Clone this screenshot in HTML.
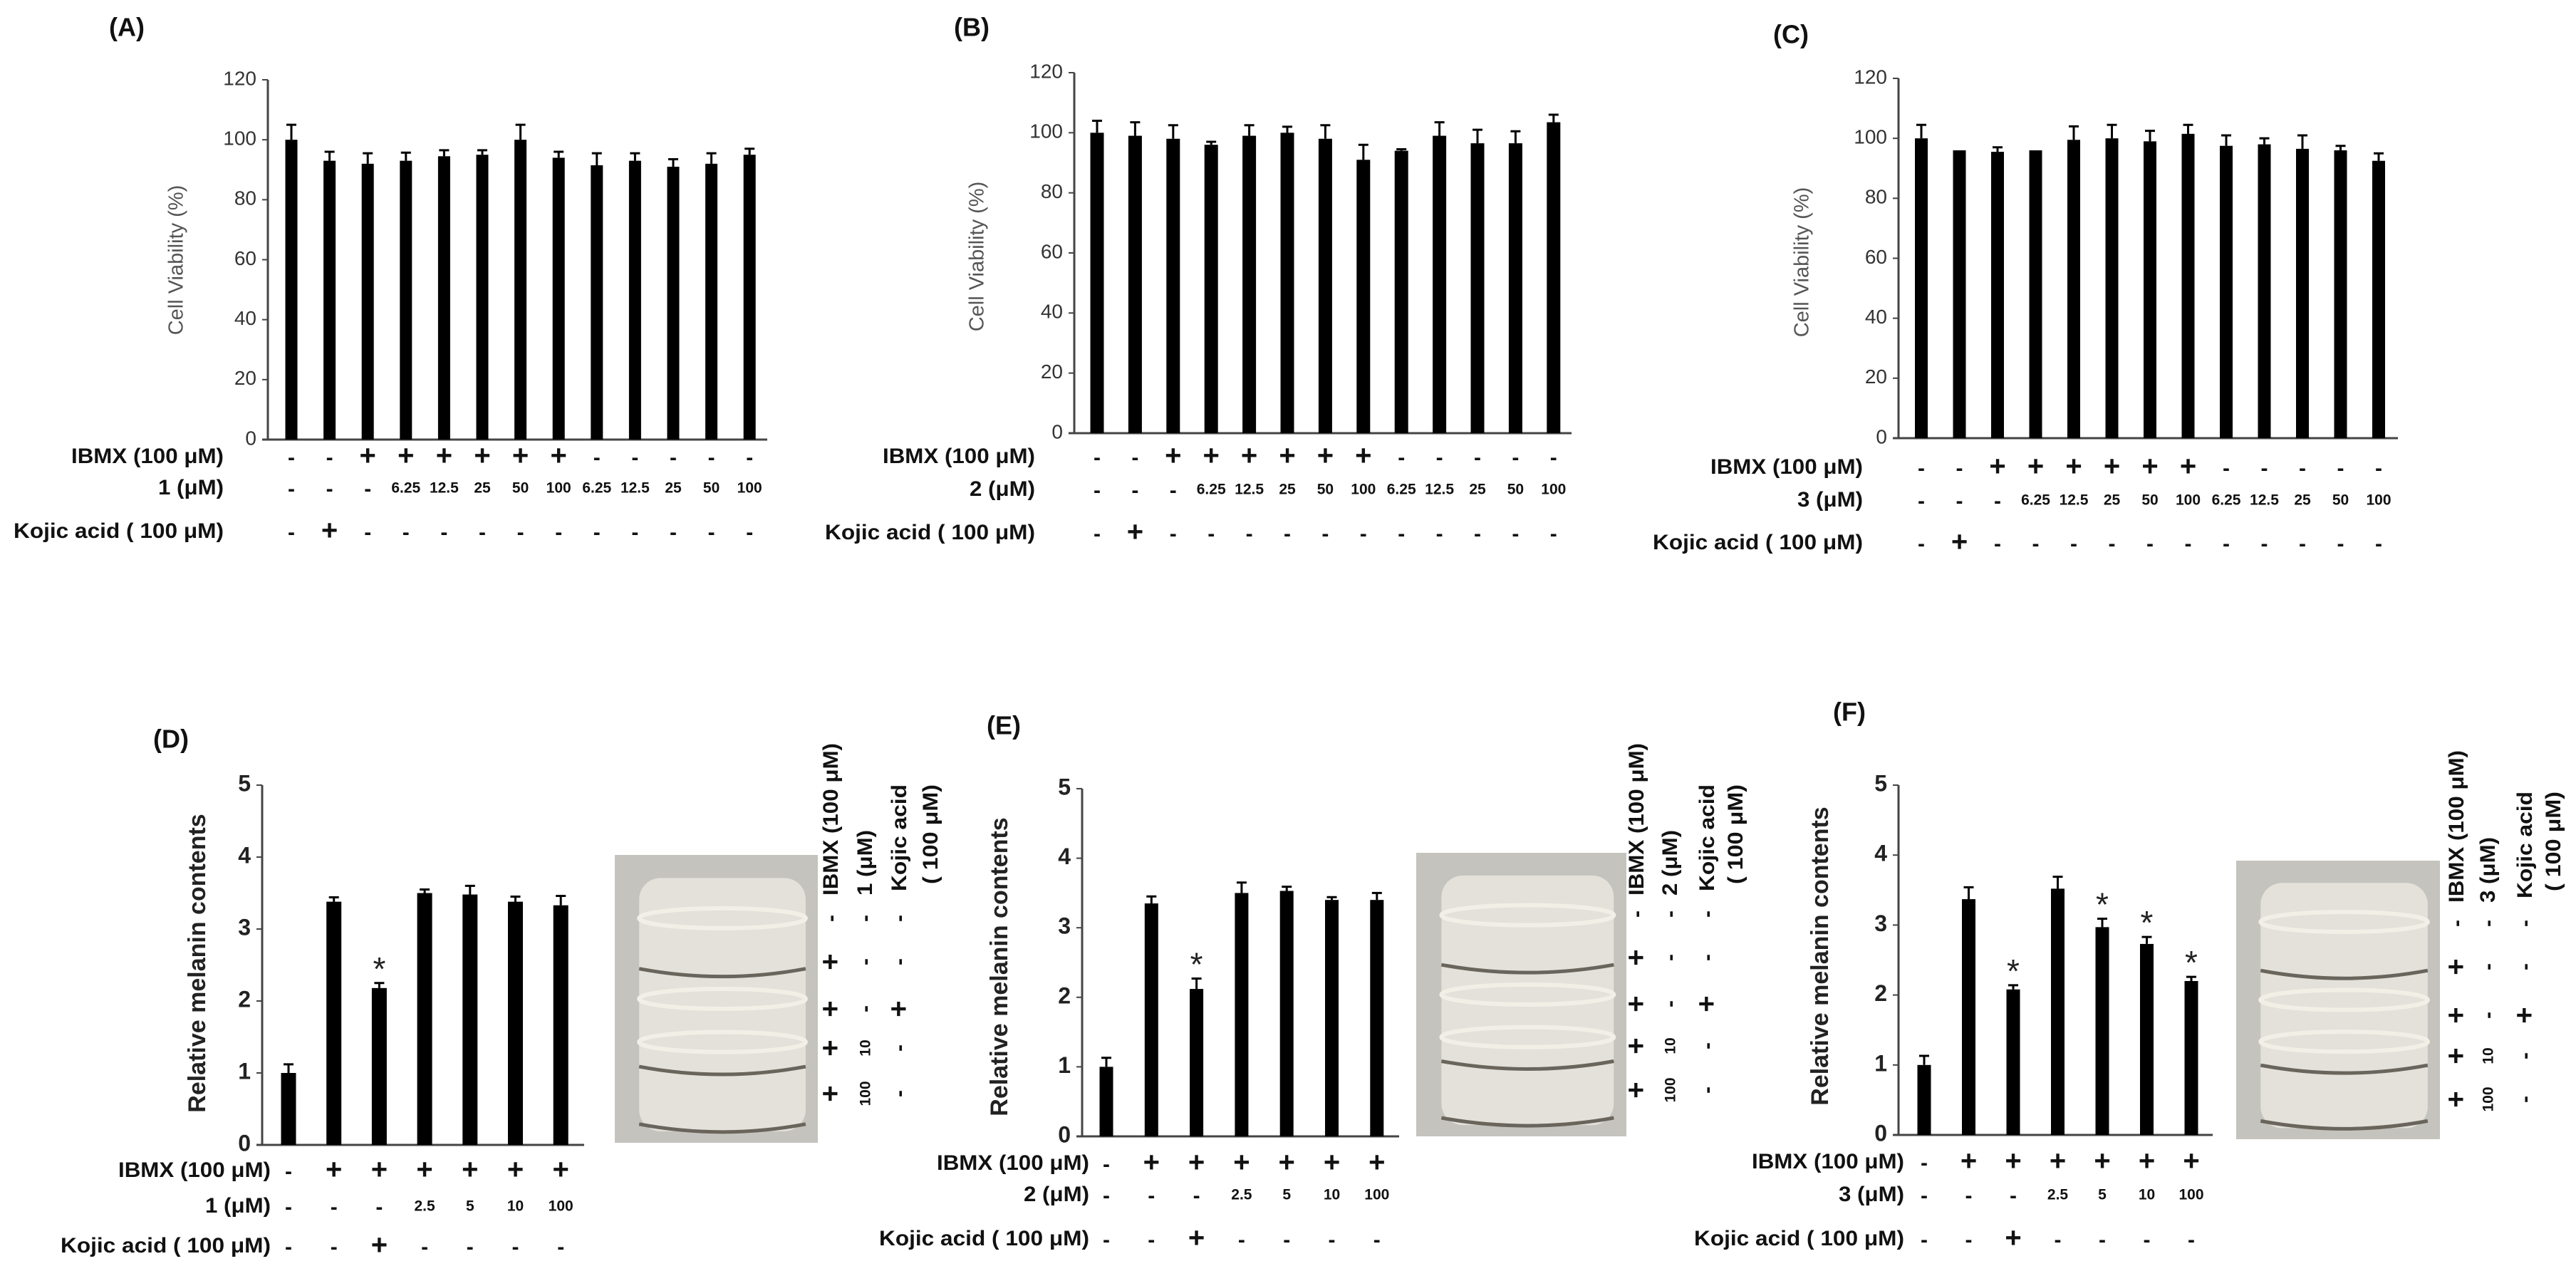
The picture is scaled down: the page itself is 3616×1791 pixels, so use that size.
<!DOCTYPE html>
<html><head><meta charset="utf-8">
<style>
html,body{margin:0;padding:0;background:#fff;}
svg{display:block;font-family:"Liberation Sans",Arial,sans-serif;}
</style></head>
<body>
<svg id="fig" xmlns="http://www.w3.org/2000/svg" width="3616" height="1791" viewBox="0 0 3616 1791">
<rect x="0" y="0" width="3616" height="1791" fill="#fff"/>
</svg>
<script>
// ---- Data: cell viability panels (A–C) ----
const viabTicks = [0, 20, 40, 60, 80, 100, 120];
const viabIbmx = ['-','-','+','+','+','+','+','+','-','-','-','-','-'];
const viabConc = ['-','-','-','6.25','12.5','25','50','100','6.25','12.5','25','50','100'];
const viabKojic = ['-','+','-','-','-','-','-','-','-','-','-','-','-'];
const valuesA = [100, 93, 92, 93, 94.5, 95, 100, 94, 91.5, 93, 91, 92, 95];
const errorsA = [5, 3, 3.5, 2.7, 2, 1.5, 5, 2, 4, 2.5, 2.5, 3.5, 2];
const valuesB = [100, 99, 98, 96, 99, 100, 98, 91, 94, 99, 96.5, 96.5, 103.5];
const errorsB = [4, 4.5, 4.5, 1, 3.5, 2, 4.5, 5, 0.5, 4.5, 4.5, 4, 2.5];
const valuesC = [100, 96, 95.5, 96, 99.5, 100, 99, 101.5, 97.5, 98, 96.5, 96, 92.5];
const errorsC = [4.5, 0, 1.5, 0, 4.5, 4.5, 3.5, 3, 3.5, 2, 4.5, 1.5, 2.5];
// ---- Data: melanin panels (D–F) ----
const melTicks = [0, 1, 2, 3, 4, 5];
const melIbmx = ['-','+','+','+','+','+','+'];
const melConc = ['-','-','-','2.5','5','10','100'];
const melKojic = ['-','-','+','-','-','-','-'];
const valuesD = [1.0, 3.38, 2.18, 3.5, 3.48, 3.38, 3.33];
const errorsD = [0.12, 0.06, 0.07, 0.05, 0.12, 0.07, 0.13];
const starsD = [false, false, true, false, false, false, false];
const valuesE = [1.0, 3.35, 2.12, 3.5, 3.53, 3.4, 3.4];
const errorsE = [0.13, 0.1, 0.15, 0.15, 0.06, 0.04, 0.1];
const starsE = [false, false, true, false, false, false, false];
const valuesF = [1.0, 3.37, 2.08, 3.52, 2.97, 2.73, 2.2];
const errorsF = [0.13, 0.17, 0.06, 0.17, 0.12, 0.1, 0.06];
const starsF = [false, false, true, false, true, true, true];
const photoCol1 = ['-','+','+','+','+'];
const photoCol2 = ['-','-','-','10','100'];
const photoCol3 = ['-','-','+','-','-'];

const NS = 'http://www.w3.org/2000/svg';
const svg = document.getElementById('fig');
function mk(tag, attrs, parent, txt) {
  const e = document.createElementNS(NS, tag);
  for (const k in attrs) e.setAttribute(k, attrs[k]);
  if (txt !== undefined) e.textContent = txt;
  (parent || svg).appendChild(e);
  return e;
}

function drawPanel(p) {
  const g = mk('g', {});
  
  
  const yScale = v => p.yBot - (v / p.max) * (p.yBot - p.yTop);
  const xScale = i => p.first + i * p.step;
  // panel letter
  const lab = mk('text', {x: p.labX, y: p.labY, 'font-size': 36, 'font-weight': 'bold', fill: '#111', 'dominant-baseline': 'middle'}, g, p.letter);
  
  
  // y axis
  const ya = mk('line', {x1: p.x0, y1: p.yTop, x2: p.x0, y2: p.yBot, stroke: '#444', 'stroke-width': 3}, g);
  
  
  const xa = mk('line', {x1: p.x0 - 8, y1: p.yBot, x2: p.x1, y2: p.yBot, stroke: '#444', 'stroke-width': 3}, g);
  
  
  p.ticks.forEach(t => {
    const y = yScale(t);
    mk('line', {x1: p.x0 - 8, y1: y, x2: p.x0, y2: y, stroke: '#444', 'stroke-width': 2}, g);
    const tl = mk('text', {x: p.x0 - 16, y: y, 'font-size': p.tickSize, 'font-weight': p.tickWeight, fill: p.tickColor, 'text-anchor': 'end', 'dominant-baseline': 'middle'}, g, String(t));
    
    
  });
  // y title
  const yt = mk('text', {x: p.titleX, y: p.titleY, 'font-size': p.titleSize, 'font-weight': p.titleWeight, fill: p.titleColor, 'text-anchor': 'middle', 'dominant-baseline': 'middle', transform: `rotate(-90 ${p.titleX} ${p.titleY})`}, g, p.title);
  
  
  // bars
  p.values.forEach((v, i) => {
    const cx = xScale(i), yv = yScale(v);
    const r = mk('rect', {x: cx - p.bw / 2, y: yv, width: p.bw, height: p.yBot - yv, fill: '#000'}, g);
    
    
    const e = p.errors[i];
    if (e > 0) {
      const ye = yScale(v + e);
      const el = mk('path', {d: `M${cx} ${yv} V${ye} M${cx - 7} ${ye} H${cx + 7}`, stroke: '#000', 'stroke-width': 3, fill: 'none'}, g);
      
      
    }
    if (p.stars && p.stars[i]) {
      const st = mk('text', {x: cx, y: yScale(v + e) - 4, 'font-size': 46, fill: '#222', 'text-anchor': 'middle'}, g, '*');
      
      
    }
  });
  // condition rows
  const rows = [[p.rowLabels[0], p.ibmx, p.rowY[0], p.rowW[0]], [p.rowLabels[1], p.conc, p.rowY[1], p.rowW[1]], [p.rowLabels[2], p.kojic, p.rowY[2], p.rowW[2]]];
  rows.forEach((row, ri) => {
    const rl = mk('text', {x: p.rowX, y: row[2], 'font-size': 30, 'font-weight': 'bold', fill: '#111', 'text-anchor': 'end', 'dominant-baseline': 'middle', textLength: row[3], lengthAdjust: 'spacingAndGlyphs'}, g, row[0]);
    
    
    row[1].forEach((s, i) => {
      const cx = xScale(i);
      let attrs;
      if (s === '+') attrs = {'font-size': 40, 'font-weight': 'bold'};
      else if (s === '-') attrs = {'font-size': 30, 'font-weight': 'bold'};
      else attrs = {'font-size': 21, 'font-weight': 'bold'};
      const t = mk('text', Object.assign({x: cx, y: row[2] + (s === '-' ? 2 : 0), fill: '#111', 'text-anchor': 'middle', 'dominant-baseline': 'middle'}, attrs), g, s);
      
      
    });
  });
  // photo + rotated legend
  if (p.photo) {
    const ph = p.photo;
    const pg = mk('g', {}, g);
    
    
    mk('rect', {x: ph.x, y: ph.y, width: ph.w, height: ph.h, fill: '#c4c3be'}, pg);
    const ix = ph.x + ph.w * 0.12, iw = ph.w * 0.82;
    mk('rect', {x: ix, y: ph.y + ph.h * 0.08, width: iw, height: ph.h * 0.88, rx: 30, fill: '#e3e1da'}, pg);
    [0.22, 0.5, 0.65].forEach(f => mk('ellipse', {cx: ix + iw / 2, cy: ph.y + ph.h * f, rx: iw / 2, ry: 14, fill: 'none', stroke: '#f2efe6', 'stroke-width': 6}, pg));
    [0.42, 0.76, 0.96].forEach(f => mk('path', {d: `M${ix} ${ph.y + ph.h * f - 10} Q${ix + iw / 2} ${ph.y + ph.h * f + 12} ${ix + iw} ${ph.y + ph.h * f - 10}`, fill: 'none', stroke: '#6a655c', 'stroke-width': 5}, pg));
    const cols = [[ph.c1, photoCol1, p.rowLabels[0], ph.textY, 214], [ph.c2, photoCol2, p.rowLabels[1], ph.textY, 92]];
    cols.forEach(c => {
      const t = mk('text', {x: c[0], y: c[3], 'font-size': 30, 'font-weight': 'bold', fill: '#111', 'dominant-baseline': 'middle', transform: `rotate(-90 ${c[0]} ${c[3]})`, textLength: c[4], lengthAdjust: 'spacingAndGlyphs'}, g, c[2]);
      
      
    });
    const k1 = mk('text', {x: ph.c3, y: ph.textY - 6, 'font-size': 30, 'font-weight': 'bold', fill: '#111', 'dominant-baseline': 'middle', transform: `rotate(-90 ${ph.c3} ${ph.textY - 6})`, textLength: 150, lengthAdjust: 'spacingAndGlyphs'}, g, 'Kojic acid');
    
    
    const k2 = mk('text', {x: ph.c4, y: ph.textY - 16, 'font-size': 30, 'font-weight': 'bold', fill: '#111', 'dominant-baseline': 'middle', transform: `rotate(-90 ${ph.c4} ${ph.textY - 16})`, textLength: 140, lengthAdjust: 'spacingAndGlyphs'}, g, '( 100 μM)');
    
    
    [[ph.c1, photoCol1], [ph.c2, photoCol2], [ph.c3, photoCol3]].forEach(c => {
      c[1].forEach((s, i) => {
        const y = ph.rows[i];
        const fs = s === '+' ? 40 : (s === '-' ? 30 : 21);
        const t = mk('text', {x: c[0], y: y, 'font-size': fs, 'font-weight': 'bold', fill: '#111', 'text-anchor': 'middle', 'dominant-baseline': 'middle', transform: `rotate(-90 ${c[0]} ${y})`}, g, s);
        
        
      });
    });
  }
}

const viabCommon = {max: 120, ticks: viabTicks, tickSize: 28, tickWeight: 'normal', tickColor: '#333', title: 'Cell Viability (%)', titleSize: 29, titleWeight: 'normal', titleColor: '#555', ibmx: viabIbmx, conc: viabConc, kojic: viabKojic};
drawPanel(Object.assign({}, viabCommon, {name: 'panel-a', letter: '(A)', labX: 153, labY: 41, x0: 376, x1: 1077, yTop: 112, yBot: 617, first: 409, step: 53.6, bw: 17, values: valuesA, errors: errorsA, titleX: 249, titleY: 365, rowX: 314, rowY: [642, 686, 747], rowW: [214, 92, 295], rowLabels: ['IBMX (100 μM)', '1 (μM)', 'Kojic acid ( 100 μM)']}));
drawPanel(Object.assign({}, viabCommon, {name: 'panel-b', letter: '(B)', labX: 1339, labY: 41, x0: 1508, x1: 2206, yTop: 102, yBot: 608, first: 1540, step: 53.4, bw: 19, values: valuesB, errors: errorsB, titleX: 1373, titleY: 360, rowX: 1453, rowY: [642, 688, 749], rowW: [214, 92, 295], rowLabels: ['IBMX (100 μM)', '2 (μM)', 'Kojic acid ( 100 μM)']}));
drawPanel(Object.assign({}, viabCommon, {name: 'panel-c', letter: '(C)', labX: 2489, labY: 51, x0: 2665, x1: 3366, yTop: 110, yBot: 615, first: 2697, step: 53.5, bw: 18, values: valuesC, errors: errorsC, titleX: 2531, titleY: 368, rowX: 2615, rowY: [657, 703, 763], rowW: [214, 92, 295], rowLabels: ['IBMX (100 μM)', '3 (μM)', 'Kojic acid ( 100 μM)']}));

const melCommon = {max: 5, ticks: melTicks, tickSize: 32, tickWeight: 'bold', tickColor: '#222', title: 'Relative melanin contents', titleSize: 34, titleWeight: 'bold', titleColor: '#222', ibmx: melIbmx, conc: melConc, kojic: melKojic};
drawPanel(Object.assign({}, melCommon, {name: 'panel-d', letter: '(D)', labX: 215, labY: 1040, x0: 368, x1: 820, yTop: 1102, yBot: 1607, first: 405, step: 63.7, bw: 21, values: valuesD, errors: errorsD, stars: starsD, titleX: 279, titleY: 1352, rowX: 380, rowY: [1644, 1694, 1750], rowW: [214, 92, 295], rowLabels: ['IBMX (100 μM)', '1 (μM)', 'Kojic acid ( 100 μM)'],
  photo: {x: 863, y: 1200, w: 285, h: 404, c1: 1168, c2: 1216, c3: 1264, c4: 1308, textY: 1257, rows: [1289, 1350, 1416, 1471, 1535]}}));
drawPanel(Object.assign({}, melCommon, {name: 'panel-e', letter: '(E)', labX: 1385, labY: 1021, x0: 1519, x1: 1964, yTop: 1107, yBot: 1595, first: 1553, step: 63.3, bw: 19, values: valuesE, errors: errorsE, stars: starsE, titleX: 1405, titleY: 1357, rowX: 1529, rowY: [1634, 1678, 1740], rowW: [214, 92, 295], rowLabels: ['IBMX (100 μM)', '2 (μM)', 'Kojic acid ( 100 μM)'],
  photo: {x: 1988, y: 1197, w: 295, h: 398, c1: 2299, c2: 2346, c3: 2398, c4: 2438, textY: 1257, rows: [1283, 1344, 1409, 1468, 1530]}}));
drawPanel(Object.assign({}, melCommon, {name: 'panel-f', letter: '(F)', labX: 2573, labY: 1002, x0: 2665, x1: 3106, yTop: 1102, yBot: 1593, first: 2701, step: 62.5, bw: 19, values: valuesF, errors: errorsF, stars: starsF, titleX: 2557, titleY: 1342, rowX: 2673, rowY: [1632, 1678, 1740], rowW: [214, 92, 295], rowLabels: ['IBMX (100 μM)', '3 (μM)', 'Kojic acid ( 100 μM)'],
  photo: {x: 3139, y: 1208, w: 286, h: 391, c1: 3450, c2: 3494, c3: 3546, c4: 3586, textY: 1267, rows: [1296, 1357, 1425, 1482, 1543]}}));
</script>
</body></html>
